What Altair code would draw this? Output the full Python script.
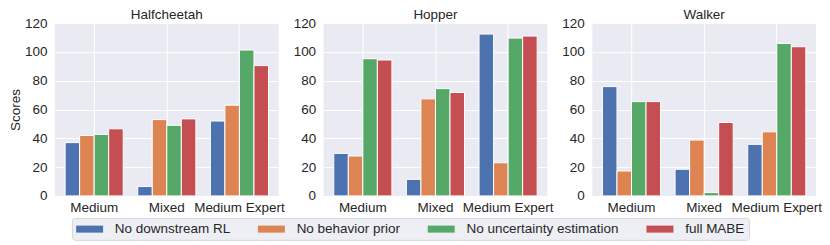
import altair as alt
import pandas as pd

envs = ["Halfcheetah", "Hopper", "Walker"]
datasets = ["Medium", "Mixed", "Medium Expert"]
methods = ["No downstream RL", "No behavior prior", "No uncertainty estimation", "full MABE"]
colors = ["#4C72B0", "#DD8452", "#55A868", "#C44E52"]

# values per dataset (Medium, Mixed, Medium Expert)
halfcheetah_no_rl = [37, 6.5, 52]
halfcheetah_no_prior = [42, 53, 63]
halfcheetah_no_unc = [42.7, 49, 101.3]
halfcheetah_full = [46.6, 53.5, 90.5]

hopper_no_rl = [29.5, 11.5, 112.4]
hopper_no_prior = [27.7, 67.4, 23]
hopper_no_unc = [95.3, 74.5, 109.6]
hopper_full = [94.4, 71.8, 111]

walker_no_rl = [75.9, 18.5, 35.8]
walker_no_prior = [17.3, 38.8, 44.5]
walker_no_unc = [65.5, 2.3, 105.9]
walker_full = [65.5, 51, 103.6]

table = {
    "Halfcheetah": [halfcheetah_no_rl, halfcheetah_no_prior, halfcheetah_no_unc, halfcheetah_full],
    "Hopper": [hopper_no_rl, hopper_no_prior, hopper_no_unc, hopper_full],
    "Walker": [walker_no_rl, walker_no_prior, walker_no_unc, walker_full],
}

rows = []
for env in envs:
    for m, vals in zip(methods, table[env]):
        for d, v in zip(datasets, vals):
            rows.append({"env": env, "method": m, "dataset": d, "score": v})
df = pd.DataFrame(rows)

FONT = "Liberation Sans"
TXT = "#262626"
FS = 13.5
W, H = 224, 173


def panel(env, first):
    bars = (
        alt.Chart(df)
        .transform_filter(alt.datum.env == env)
        .mark_bar(stroke="white", strokeWidth=1)
        .encode(
            x=alt.X(
                "dataset:N",
                sort=datasets,
                scale=alt.Scale(paddingInner=0.2, paddingOuter=0.14),
                axis=alt.Axis(
                    title=None, labelAngle=0, grid=True, gridColor="white", gridWidth=1,
                    ticks=False, domain=False, bandPosition=0.5, labelPadding=5,
                    labelOverlap=False, labelBound=False,
                ),
            ),
            xOffset=alt.XOffset("method:N", sort=methods,
                                scale=alt.Scale(paddingInner=0, paddingOuter=0)),
            y=alt.Y(
                "score:Q",
                scale=alt.Scale(domain=[0, 120], nice=False),
                axis=alt.Axis(
                    values=[0, 20, 40, 60, 80, 100, 120],
                    title="Scores" if first else None,
                    grid=True, gridColor="white", gridWidth=1, ticks=False, domain=False,
                    labelPadding=8, titlePadding=2,
                ),
            ),
            color=alt.Color(
                "method:N",
                sort=methods,
                scale=alt.Scale(domain=methods, range=colors),
                legend=alt.Legend(
                    title=None, orient="none", legendX=17, legendY=195,
                    direction="horizontal", columns=4,
                    symbolType="M-1,-0.52H3V0.52H-1Z", symbolSize=182,
                    symbolStrokeWidth=0, labelFontSize=FS, labelFont=FONT,
                    labelColor=TXT, labelOffset=25, columnPadding=27, padding=4,
                    fillColor="#EEEEF5", strokeColor="#D6D6D6", cornerRadius=3,
                    labelLimit=400,
                ),
            ),
        )
    )
    title = (
        alt.Chart(pd.DataFrame({"t": [env]}))
        .mark_text(font=FONT, fontSize=FS, color=TXT, align="center", baseline="alphabetic")
        .encode(text="t:N", x=alt.value(W / 2), y=alt.value(-4))
    )
    return alt.layer(bars, title).properties(width=W, height=H)


chart = (
    alt.hconcat(panel("Halfcheetah", True), panel("Hopper", False), panel("Walker", False),
                spacing=45, bounds="flush")
    .properties(padding={"left": 0, "top": 0, "right": 0, "bottom": 0})
    .configure_view(fill="#EAEAF2", strokeWidth=0)
    .configure_axis(labelFont=FONT, labelFontSize=FS, labelColor=TXT,
                    titleFont=FONT, titleFontSize=FS, titleColor=TXT, titleFontWeight="normal")
)

chart.save("out.html", embed_options={"renderer": "svg", "actions": False})
